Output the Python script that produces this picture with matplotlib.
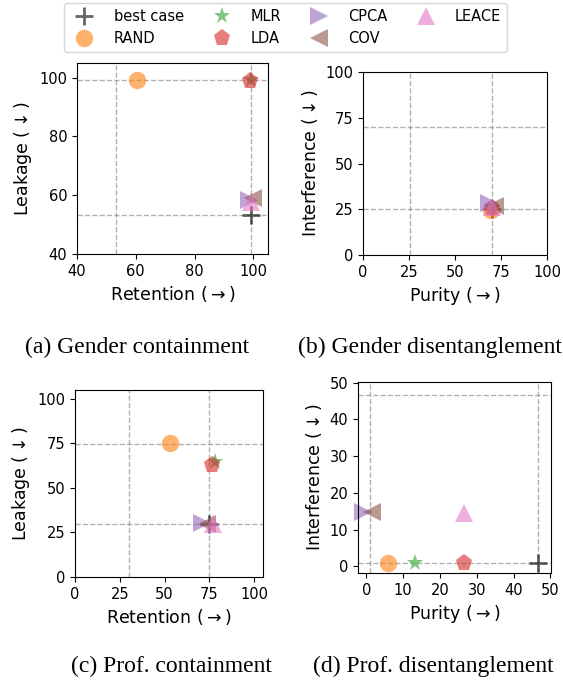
import numpy as np
import matplotlib.pyplot as plt

# methods, in legend order
metodos = ['best case', 'RAND', 'MLR', 'LDA', 'CPCA', 'COV', 'LEACE']
marcadores = ['+', 'o', '*', 'p', '>', '<', '^']
colores = ['black', 'tab:orange', 'tab:green', 'tab:red', 'tab:purple', 'tab:brown', 'tab:pink']

# (a) gender containment: retention / leakage
gen_ret = [99.2, 60.5, 99.1, 98.9, 98.6, 100.0, 99.3]
gen_leak = [53.4, 99.2, 99.1, 98.9, 58.5, 59.2, 57.8]

# (b) gender disentanglement: purity / interference
gen_pur = [70.1, 69.3, 70.0, 70.0, 68.6, 71.5, 70.3]
gen_int = [25.3, 24.6, 25.8, 25.7, 28.2, 26.6, 26.0]

# (c) profession containment
prof_ret = [74.9, 53.3, 78.1, 76.3, 70.9, 74.0, 76.8]
prof_leak = [30.0, 75.0, 64.3, 62.8, 30.1, 29.6, 29.8]

# (d) profession disentanglement
prof_pur = [46.7, 5.9, 13.3, 26.4, -0.9, 1.5, 26.6]
prof_int = [0.9, 1.0, 1.0, 1.0, 14.9, 14.9, 14.6]

paneles = [
    (gen_ret, gen_leak, 'Retention', 'Leakage', (40, 105), (40, 105), [40, 60, 80, 100], '(a) Gender containment'),
    (gen_pur, gen_int, 'Purity', 'Interference', (0, 100), (0, 100), [0, 25, 50, 75, 100], '(b) Gender disentanglement'),
    (prof_ret, prof_leak, 'Retention', 'Leakage', (0, 105), (0, 105), [0, 25, 50, 75, 100], '(c) Prof. containment'),
    (prof_pur, prof_int, 'Purity', 'Interference', (-2.3, 50.2), (-1.8, 50.2), [0, 10, 20, 30, 40, 50], '(d) Prof. disentanglement'),
]

# axes boxes in pixels: left, top, right, bottom
cajas = [(77, 63, 268, 254), (363, 72, 547, 255), (75, 390, 263, 577), (358, 382, 551, 573)]
# caption centers in pixels
leyendas_xy = [(137, 347), (430, 347), (171, 666), (433, 666)]

W, H = 563, 686
fig = plt.figure(figsize=(W / 100, H / 100), dpi=100)

ejes = []
for (xs, ys, xl, yl, xlim, ylim, ticks, titulo), caja, pos in zip(paneles, cajas, leyendas_xy):
    l, t, r, b = caja
    ax = fig.add_axes([l / W, 1 - b / H, (r - l) / W, (b - t) / H])
    # dashed guides at the best case values
    bx, by = xs[0], ys[0]
    for v in (bx, by):
        ax.axvline(v, color='gray', ls='--', lw=1, alpha=0.6, zorder=0)
        ax.axhline(v, color='gray', ls='--', lw=1, alpha=0.6, zorder=0)
    for i in range(len(metodos)):
        ax.plot(xs[i], ys[i], ls='none', marker=marcadores[i], color=colores[i],
                alpha=0.6, ms=12.5, mew=2 if marcadores[i] == '+' else 0,
                label=metodos[i], clip_on=False)
    ax.set_xlim(xlim)
    ax.set_ylim(ylim)
    ax.set_xticks(ticks)
    ax.set_yticks(ticks)
    ax.tick_params(labelsize=10.5)
    ax.set_xlabel(xl + r' ($\rightarrow$)', fontsize=12.5)
    ax.set_ylabel(yl + r' ($\downarrow$)', fontsize=12.5)
    fig.text(pos[0] / W, 1 - pos[1] / H, titulo, ha='center', va='center',
             family='Liberation Serif', fontsize=17)
    ejes.append(ax)

h, lab = ejes[0].get_legend_handles_labels()
fig.legend(h, lab, ncol=4, loc='upper center', bbox_to_anchor=(0.507, 1 - 3 / H),
           borderaxespad=0, fontsize=10.5, columnspacing=1.6, handletextpad=1.0)

fig.savefig('out.png', dpi=100)
